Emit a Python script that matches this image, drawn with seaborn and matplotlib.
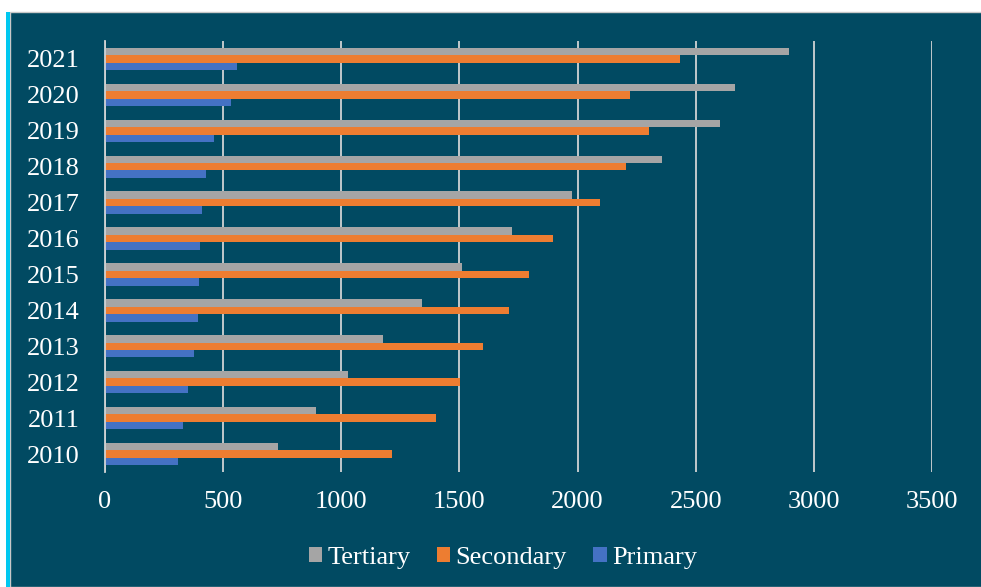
import matplotlib
matplotlib.use("Agg")
import matplotlib.pyplot as plt
import pandas as pd
import seaborn as sns
from matplotlib.patches import Rectangle

# values
years = [2021, 2020, 2019, 2018, 2017, 2016, 2015, 2014, 2013, 2012, 2011, 2010]
tertiary = [2895, 2668, 2604, 2357, 1975, 1722, 1510, 1341, 1176, 1028, 892, 732]
secondary = [2432, 2221, 2302, 2204, 2094, 1895, 1794, 1709, 1600, 1502, 1399, 1215]
primary = [558, 532, 460, 427, 410, 402, 398, 394, 376, 353, 330, 308]
levels = ["Tertiary", "Secondary", "Primary"]
colors = ["#A5A5A5", "#ED7D31", "#4472C4"]
xticks = [0, 500, 1000, 1500, 2000, 2500, 3000, 3500]

BG = "#014A62"
GRID = "#D0D3D4"

df = pd.DataFrame({
    "Year": [str(y) for y in years] * 3,
    "Value": tertiary + secondary + primary,
    "Level": [lv for lv in levels for _ in years],
})

sns.set_theme(style="white")
plt.rcParams["font.family"] = ["Liberation Serif", "DejaVu Serif"]

fig = plt.figure(figsize=(9.81, 5.87), dpi=100, facecolor="white")
W, H = 981, 587

# framed dark panel with cyan stripe at the left
fig.patches.append(Rectangle((10 / W, 0), 1, 1 - 12 / H, transform=fig.transFigure,
                             facecolor=BG, edgecolor="#C8C8C8", linewidth=1.0, zorder=-2))
fig.patches.append(Rectangle((6 / W, 0), 3.5 / W, 1 - 12 / H, transform=fig.transFigure,
                             facecolor="#00C8F0", edgecolor="none", zorder=-1))

ax = fig.add_axes([105 / W, 1 - 472 / H, (932 - 105) / W, (472 - 41) / H])
ax.set_facecolor(BG)

sns.barplot(data=df, y="Year", x="Value", hue="Level", hue_order=levels,
            order=[str(y) for y in years], palette=colors, orient="h",
            width=0.62, gap=0, saturation=1, linewidth=0, edgecolor="none",
            ax=ax, zorder=3)

ax.set_xlim(0, 3500)
ax.set_ylim(11.5, -0.5)
ax.set_xticks(xticks)
ax.set_xticklabels([str(t) for t in xticks])
ax.xaxis.grid(True, color=GRID, linewidth=1.3)
ax.set_axisbelow(True)
for s in ["top", "right", "bottom"]:
    ax.spines[s].set_visible(False)
ax.spines["left"].set_color(GRID)
ax.spines["left"].set_linewidth(1.3)
ax.spines["left"].set_zorder(4)
ax.tick_params(axis="both", length=0, colors="white", labelsize=19)
ax.tick_params(axis="y", pad=18)
ax.tick_params(axis="x", pad=14)
ax.set_xlabel("")
ax.set_ylabel("")

handles, labels = ax.get_legend_handles_labels()
ax.legend_.remove()
for h in handles:
    h.set_edgecolor("none")
leg = fig.legend(handles, labels, loc="center", bbox_to_anchor=(503 / W, 1 - 558 / H),
                 ncol=3, frameon=False, fontsize=19, handlelength=0.5, handleheight=0.5,
                 handletextpad=0.2, columnspacing=1.0)
for t in leg.get_texts():
    t.set_color("white")

fig.savefig("out.png", dpi=100, facecolor=fig.get_facecolor())
